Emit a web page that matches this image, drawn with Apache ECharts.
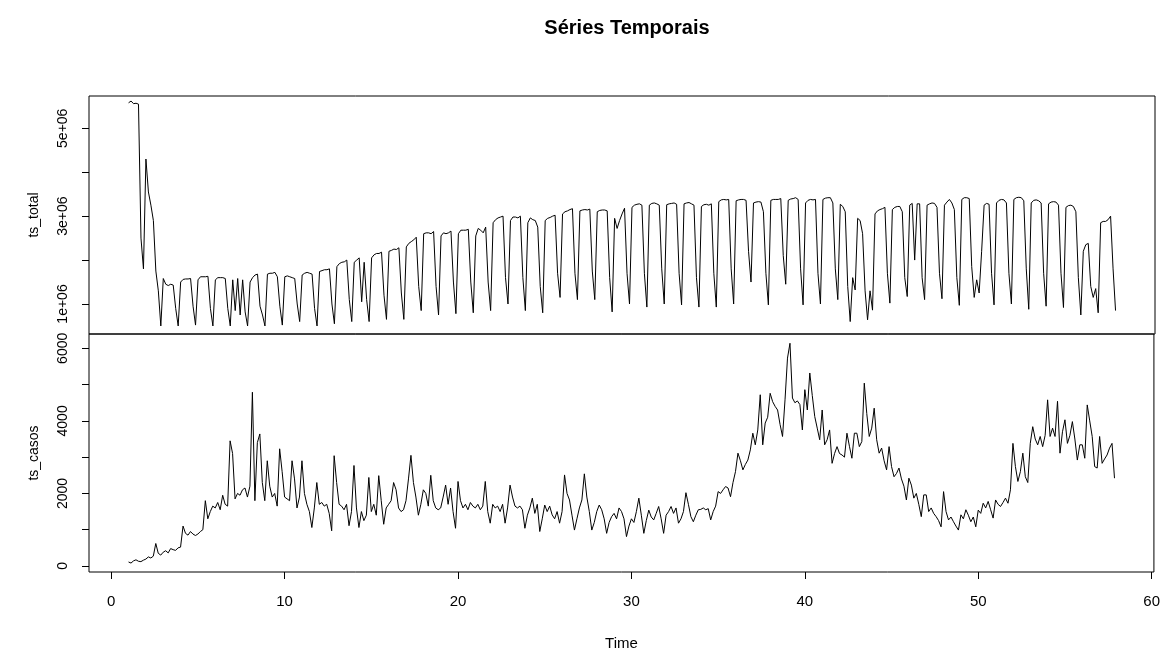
<!DOCTYPE html>
<html>
<head>
<meta charset="utf-8">
<script src="https://cdn.jsdelivr.net/npm/echarts@6/dist/echarts.min.js"></script>
<style>
    html, body { margin: 0; background: #fff; }
    #chart { width: 1163px; height: 654px; }
</style>
</head>
<body>
<div id="chart"></div>
<script>
// serie diaria, frequencia 7 (uma semana por unidade de tempo), comeca em 1
let startTime = 1;
let frequency = 7;

// ts_total em milhoes, uma linha por semana
let tsTotal = [
    5.58, 5.62, 5.56, 5.57, 5.55, 2.5, 1.8,
    4.3, 3.55, 3.25, 2.9, 1.75, 1.3, 0.5,
    1.58, 1.45, 1.42, 1.45, 1.43, 0.9, 0.5,
    1.50, 1.56, 1.57, 1.57, 1.58, 0.95, 0.52,
    1.55, 1.62, 1.62, 1.62, 1.63, 0.9, 0.5,
    1.55, 1.60, 1.60, 1.60, 1.58, 0.9, 0.5,
    1.55, 0.85, 1.58, 0.75, 1.55, 0.82, 0.5,
    1.50, 1.60, 1.66, 1.68, 0.95, 0.75, 0.5,
    1.68, 1.70, 1.70, 1.72, 1.62, 0.95, 0.52,
    1.62, 1.64, 1.62, 1.60, 1.58, 1.0, 0.6,
    1.66, 1.70, 1.72, 1.70, 1.68, 0.9, 0.5,
    1.74, 1.76, 1.78, 1.78, 1.80, 1.0, 0.55,
    1.85, 1.92, 1.95, 1.96, 2.0, 1.1, 0.6,
    1.95, 2.0, 2.05, 1.05, 1.95, 1.1, 0.6,
    2.05, 2.12, 2.15, 2.15, 2.18, 1.2, 0.65,
    2.2, 2.22, 2.25, 2.24, 2.28, 1.25, 0.65,
    2.3, 2.38, 2.42, 2.46, 2.52, 1.4, 0.85,
    2.6, 2.62, 2.62, 2.60, 2.65, 1.4, 0.75,
    2.55, 2.62, 2.6, 2.62, 2.66, 1.5, 0.78,
    2.6, 2.68, 2.68, 2.68, 2.70, 1.5, 0.8,
    2.55, 2.72, 2.68, 2.62, 2.75, 1.5, 0.85,
    2.85, 2.92, 2.96, 2.98, 3.0, 1.6, 1.0,
    2.9, 2.98, 2.98, 2.96, 3.0, 1.6, 0.85,
    2.85, 2.96, 2.92, 2.9, 2.75, 1.4, 0.8,
    2.9, 2.95, 2.97, 3.0, 3.02, 1.7, 1.15,
    3.05, 3.1, 3.12, 3.15, 3.17, 1.7, 1.1,
    3.12, 3.14, 3.15, 3.14, 3.16, 1.75, 1.1,
    3.1, 3.13, 3.14, 3.14, 3.12, 1.6, 0.82,
    2.95, 2.72, 2.9, 3.05, 3.18, 1.7, 1.0,
    3.2, 3.25, 3.27, 3.28, 3.25, 1.7, 0.93,
    3.25, 3.29, 3.3, 3.28, 3.25, 1.8, 1.0,
    3.26, 3.28, 3.29, 3.3, 3.27, 1.7, 0.98,
    3.28, 3.3, 3.31, 3.28, 3.25, 1.6, 0.93,
    3.22, 3.26, 3.27, 3.25, 3.28, 1.7, 0.93,
    3.33, 3.37, 3.38, 3.37, 3.38, 1.8, 1.0,
    3.35, 3.37, 3.38, 3.38, 3.36, 2.2, 1.5,
    3.3, 3.32, 3.33, 3.32, 3.1, 1.7, 0.98,
    3.36, 3.38, 3.38, 3.38, 3.40, 2.1, 1.45,
    3.36, 3.39, 3.40, 3.42, 3.38, 1.8, 0.98,
    3.3, 3.36, 3.38, 3.37, 3.38, 1.7, 1.0,
    3.38, 3.41, 3.42, 3.42, 3.3, 1.8, 1.1,
    3.27, 3.22, 3.1, 1.4, 0.6, 1.6, 1.32,
    2.95, 2.9, 2.6, 1.3, 0.64, 1.3, 0.86,
    3.05, 3.12, 3.15, 3.17, 3.2, 1.7, 1.02,
    3.15, 3.2, 3.22, 3.22, 3.1, 1.6, 1.17,
    3.25, 3.29, 2.0, 3.28, 3.28, 1.6, 1.1,
    3.25, 3.28, 3.3, 3.29, 3.2, 1.7, 1.12,
    3.25, 3.32, 3.38, 3.3, 3.15, 1.6, 0.97,
    3.38, 3.42, 3.42, 3.40, 1.85, 1.15, 1.55,
    1.25, 2.2, 3.25, 3.29, 3.27, 1.7, 0.98,
    3.3, 3.36, 3.38, 3.37, 3.3, 1.7, 1.0,
    3.38, 3.42, 3.43, 3.42, 3.35, 1.8, 0.88,
    3.3, 3.36, 3.37, 3.35, 3.3, 1.7, 0.95,
    3.28, 3.32, 3.33, 3.32, 3.25, 1.7, 0.92,
    3.2, 3.24, 3.25, 3.22, 3.1, 1.6, 0.75,
    2.2, 2.35, 2.38, 1.4, 1.15, 1.35, 0.8,
    2.85, 2.88, 2.88, 2.92, 3.0, 1.8, 0.85
];

// ts_casos, uma linha por semana
let tsCasos = [
    110, 80, 140, 170, 130, 120, 160,
    190, 250, 220, 270, 620, 350, 300,
    380, 420, 360, 480, 450, 430, 500,
    520, 1100, 900, 850, 950, 880, 840,
    880, 950, 1000, 1800, 1300, 1500, 1650,
    1600, 1750, 1550, 1950, 1700, 1650, 3450,
    3100, 1850, 2000, 1950, 2100, 2150, 1900,
    2200, 4790, 1800, 3400, 3640, 2300, 1800,
    2900, 2200, 1900, 2000, 1650, 3230, 2600,
    1900, 1850, 1800, 2900, 2400, 1600, 1900,
    2900, 2000, 1700, 1500, 1060, 1600, 2300,
    1700, 1750, 1650, 1700, 1450, 970, 3040,
    2300, 1700, 1650, 1550, 1700, 1110, 1500,
    2770, 1600, 1060, 1500, 1250, 1400, 2440,
    1500, 1700, 1400, 2490, 1800, 1150, 1600,
    1700, 1800, 2300, 2100, 1600, 1500, 1550,
    1800, 2400, 3050, 2300, 1900, 1400, 1700,
    2100, 2000, 1650, 2500, 1800, 1600, 1550,
    1600, 1900, 2230, 1700, 2150, 1500, 1040,
    2330, 1800, 1600, 1700, 1550, 1750, 1650,
    1600, 1700, 1550, 1650, 2330, 1500, 1180,
    1700, 1600, 1650, 1500, 1700, 1180, 1600,
    2230, 1900, 1650, 1600, 1650, 1550, 1040,
    1400, 1600, 1870, 1450, 1700, 950, 1300,
    1680, 1500, 1650, 1410, 1300, 1500, 1180,
    1500, 2510, 2000, 1820, 1400, 990, 1300,
    1600, 1820, 2540, 1900, 1500, 990, 1200,
    1500, 1680, 1550, 1300, 900, 1200, 1360,
    1450, 1300, 1600, 1500, 1300, 810, 1100,
    1300, 1200, 1500, 1870, 1400, 900, 1250,
    1540, 1350, 1270, 1450, 1640, 1300, 900,
    1400, 1500, 1640, 1450, 1600, 1180, 1300,
    1500, 2020, 1700, 1360, 1220, 1400, 1550,
    1560, 1600, 1550, 1580, 1270, 1500, 1650,
    2050, 2000, 2100, 2190, 2150, 1910, 2300,
    2600, 3110, 2900, 2650, 2800, 2920, 3200,
    3660, 3340, 3750, 4720, 3340, 3940, 4100,
    4760, 4530, 4400, 4300, 3900, 3570, 4580,
    5730, 6140, 4630, 4500, 4550, 4450, 3750,
    4860, 4300, 5320, 4700, 4120, 3800, 3480,
    4300, 3340, 3480, 3750, 2830, 3100, 3290,
    3100, 3060, 3000, 3660, 3300, 2970, 3660,
    3660, 3290, 3430, 5040, 4200, 3570, 3800,
    4350, 3480, 3110, 3250, 2900, 2650, 3290,
    2740, 2460, 2550, 2700, 2400, 2200, 1820,
    2420, 2230, 1870, 2000, 1700, 1360, 1960,
    1960, 1500, 1600, 1450, 1360, 1250, 1080,
    2050, 1500, 1270, 1350, 1220, 1100, 990,
    1410, 1300, 1550, 1400, 1220, 1350, 1080,
    1540, 1450, 1730, 1600, 1780, 1550, 1320,
    1820, 1700, 1640, 1750, 1870, 1730, 2100,
    3380, 2740, 2330, 2600, 3110, 2460, 2300,
    3380, 3840, 3500, 3340, 3570, 3290, 3600,
    4580, 3570, 3800, 3570, 4540, 3110, 3700,
    4030, 3380, 3600, 3980, 3500, 2920, 3340,
    3340, 2970, 4440, 4000, 3570, 2740, 2700,
    3570, 2830, 2950, 3060, 3250, 3380, 2420
];

let timeTicks = [0, 10, 20, 30, 40, 50, 60];
let totalTicks = [1e6, 2e6, 3e6, 4e6, 5e6];
let totalLabels = [1e6, 3e6, 5e6];
let casosTicks = [0, 1000, 2000, 3000, 4000, 5000, 6000];
let casosLabels = [0, 2000, 4000, 6000];

let FONT = '"Liberation Sans", Arial, sans-serif';

function toPoints(values, scale) {
    return values.map((v, i) => [startTime + i / frequency, v * scale]);
}

function sciLabel(v) {
    return (v / 1e6) + 'e+06';
}

function yAxisOption(gridIndex, name, range, ticks, labels, formatter) {
    return {
        type: 'value',
        gridIndex: gridIndex,
        min: range[0],
        max: range[1],
        name: name,
        nameLocation: 'middle',
        nameGap: 48,
        nameTextStyle: { fontFamily: FONT, fontSize: 14, color: '#000' },
        splitLine: { show: false },
        axisLine: { show: false, onZero: false },
        axisTick: { show: true, length: 7, customValues: ticks, lineStyle: { color: '#000' } },
        axisLabel: {
            rotate: 90,
            margin: 19,
            customValues: labels,
            formatter: formatter,
            fontFamily: FONT,
            fontSize: 14,
            color: '#000'
        }
    };
}

let xRange = [-1.28, 60.13];

let option = {
    animation: false,
    backgroundColor: '#fff',
    title: {
        text: 'Séries Temporais',
        left: 622,
        top: 13,
        textAlign: 'center',
        textStyle: { fontFamily: FONT, fontSize: 20, fontWeight: 'bold', color: '#000' }
    },
    grid: [
        { left: 89, right: 8, top: 96, height: 238, show: true, borderColor: '#000', borderWidth: 1, backgroundColor: 'transparent' },
        { left: 89, right: 8, top: 334, height: 238, show: true, borderColor: '#000', borderWidth: 1, backgroundColor: 'transparent' }
    ],
    xAxis: [
        {
            type: 'value', gridIndex: 0, min: xRange[0], max: xRange[1],
            show: false, splitLine: { show: false }
        },
        {
            type: 'value', gridIndex: 1, min: xRange[0], max: xRange[1],
            name: 'Time',
            nameLocation: 'middle',
            nameGap: 64,
            nameTextStyle: { fontFamily: FONT, fontSize: 15, color: '#000' },
            splitLine: { show: false },
            axisLine: { show: false, onZero: false },
            axisTick: { show: true, length: 7, customValues: timeTicks, lineStyle: { color: '#000' } },
            axisLabel: {
                customValues: timeTicks,
                margin: 22,
                fontFamily: FONT,
                fontSize: 15,
                color: '#000'
            }
        }
    ],
    yAxis: [
        yAxisOption(0, 'ts_total', [317000, 5735000], totalTicks, totalLabels, sciLabel),
        yAxisOption(1, 'ts_casos', [-166, 6395], casosTicks, casosLabels, v => String(v))
    ],
    series: [
        {
            name: 'ts_total',
            type: 'line',
            xAxisIndex: 0,
            yAxisIndex: 0,
            showSymbol: false,
            lineStyle: { color: '#000', width: 1 },
            data: toPoints(tsTotal, 1e6)
        },
        {
            name: 'ts_casos',
            type: 'line',
            xAxisIndex: 1,
            yAxisIndex: 1,
            showSymbol: false,
            lineStyle: { color: '#000', width: 1 },
            data: toPoints(tsCasos, 1)
        }
    ]
};

let chart = echarts.init(document.getElementById('chart'));
chart.setOption(option);
</script>
</body>
</html>
